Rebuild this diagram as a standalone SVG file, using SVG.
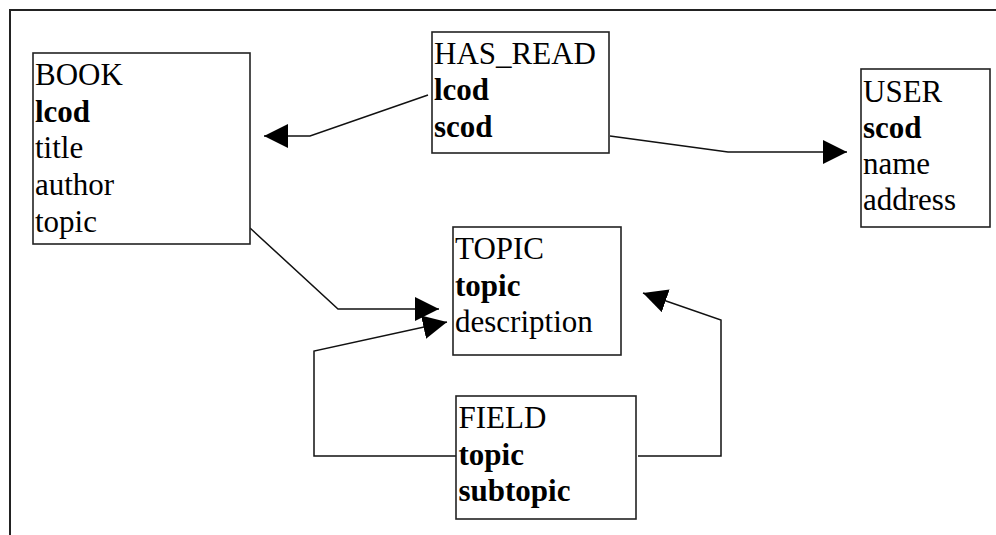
<svg xmlns="http://www.w3.org/2000/svg" width="996" height="535" viewBox="0 0 996 535">
<style>
.box{fill:#fff;stroke:#222;stroke-width:1.6}
.t{font-family:'Liberation Serif','Times New Roman',serif;font-size:31px;fill:#000}
.b{font-weight:bold}
.c{fill:none;stroke:#111;stroke-width:1.5;marker-end:url(#ah)}
</style>
<defs>
<marker id="ah" markerUnits="userSpaceOnUse" markerWidth="24" markerHeight="24" viewBox="0 0 22 22" refX="22" refY="11" orient="auto">
<path d="M0,0 L22,11 L0,22 Z" fill="#000"/>
</marker>
</defs>
<rect width="996" height="535" fill="#fff"/>
<path d="M10,536 V10 H997" fill="none" stroke="#222" stroke-width="2"/>
<g id="connectors">
<path class="c" d="M428,95 L310,136 L264,136"/>
<path class="c" d="M610,136 L728,152 L847,152"/>
<path class="c" d="M250,228 L338,309 L439,309"/>
<path class="c" d="M456,456 L314,456 L314,351 L447,322"/>
<path class="c" d="M638,456 L721,456 L721,320 L643,293"/>
</g>
<g id="BOOK">
<rect class="box" x="33" y="53" width="217" height="191"/>
<text class="t" x="35" y="85">BOOK</text>
<text class="t b" x="35" y="121.7">lcod</text>
<text class="t" x="35" y="158.4">title</text>
<text class="t" x="35" y="195.1">author</text>
<text class="t" x="35" y="231.8">topic</text>
</g>
<g id="HAS_READ">
<rect class="box" x="432" y="32" width="177" height="121"/>
<text class="t" x="434" y="63.5">HAS_READ</text>
<text class="t b" x="434" y="100.3">lcod</text>
<text class="t b" x="434" y="137.2">scod</text>
</g>
<g id="USER">
<rect class="box" x="861" y="69" width="129" height="158"/>
<text class="t" x="863" y="101.5">USER</text>
<text class="t b" x="863" y="137.8">scod</text>
<text class="t" x="863" y="174">name</text>
<text class="t" x="863" y="210.3">address</text>
</g>
<g id="TOPIC">
<rect class="box" x="453" y="227" width="168" height="128"/>
<text class="t" x="455" y="259">TOPIC</text>
<text class="t b" x="455" y="295.5">topic</text>
<text class="t" x="455" y="332">description</text>
</g>
<g id="FIELD">
<rect class="box" x="456" y="396" width="180" height="123"/>
<text class="t" x="458.5" y="428">FIELD</text>
<text class="t b" x="458.5" y="464.7">topic</text>
<text class="t b" x="458.5" y="501.4">subtopic</text>
</g>
</svg>
